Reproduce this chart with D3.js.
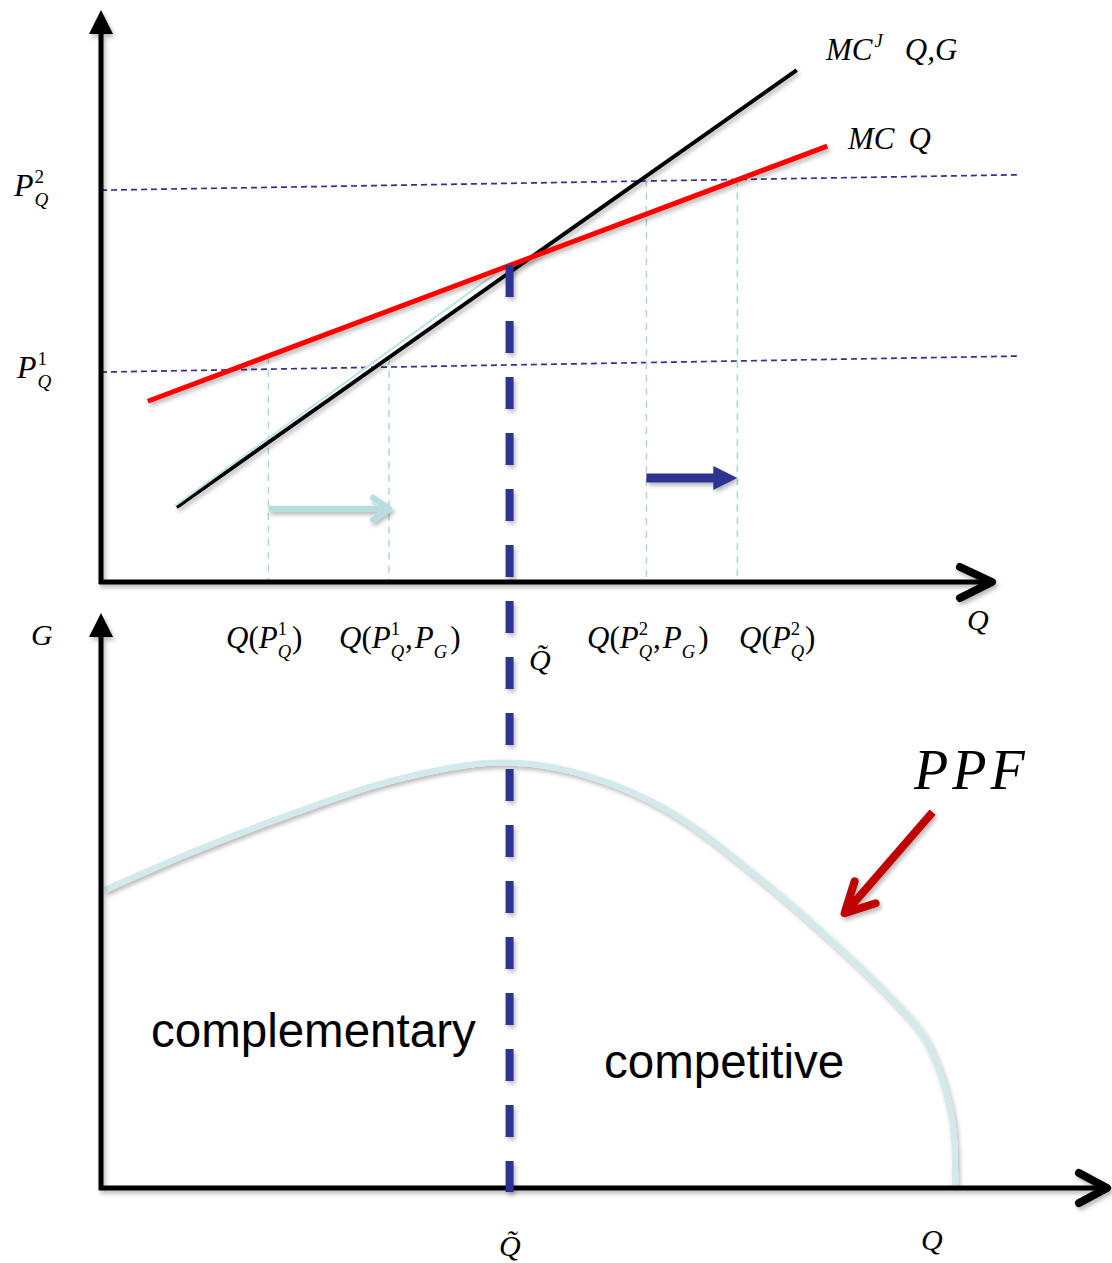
<!DOCTYPE html>
<html>
<head>
<meta charset="utf-8">
<script src="https://cdn.jsdelivr.net/npm/d3@7"></script>
<style>
  html, body { margin: 0; padding: 0; background: #fff; }
  svg { display: block; }
</style>
</head>
<body>
<div id="graphic"></div>
<script>
// Values in abstract units (0-100 on each axis)
var mcJoint = [[8.4, 13.1], [77.3, 89.5]];          // MC^J(Q,G)
var mcOwn = [[5.2, 31.6], [80.7, 76.2]];            // MC(Q)
var mcJointLow = [[8.4, 13.2], [45.4, 55.4]];       // light segment up to Q tilde
var priceLines = [
  { name: "P2", from: [0, 68.5], to: [102.1, 71.2] },
  { name: "P1", from: [0, 36.7], to: [102.1, 39.5] }
];
var quantityMarks = [
  { q: 18.6, top: 39.4 },
  { q: 32.0, top: 39.2 },
  { q: 60.6, top: 70.3 },
  { q: 70.7, top: 70.4 }
];
var qTilde = 45.4;
var qTildeTop = 55.4;
var shifts = [
  { from: 18.6, to: 32.0, y: 12.8, kind: "light" },
  { from: 60.6, to: 70.7, y: 18.2, kind: "dark" }
];
var ppf = [
  [0.4, 52.0], [9.9, 58.5], [21.0, 65.2], [32.1, 71.0], [43.2, 74.2],
  [51.0, 73.2], [62.1, 66.7], [73.2, 54.0], [84.3, 38.6], [88.5, 32.0],
  [91.2, 27.0], [93.2, 20.1], [94.6, 11.3], [94.9, 0.5]
];
var ppfPointer = [[92.4, 65.6], [82.4, 47.6]];

(function() {
var width = 1112, height = 1263;

// Scales
var x = d3.scaleLinear().domain([0, 100]).range([101, 1001]);
var yTop = d3.scaleLinear().domain([0, 100]).range([582, 10]);
var yBot = d3.scaleLinear().domain([0, 100]).range([1188, 615]);

var svg = d3.select("#graphic").append("svg")
    .attr("width", width)
    .attr("height", height);

// Drop shadow; user-space region so straight lines (zero-width bbox) still render
var defs = svg.append("defs");
var shadow = defs.append("filter").attr("id", "shadow")
    .attr("filterUnits", "userSpaceOnUse")
    .attr("x", 0).attr("y", 0).attr("width", width).attr("height", height);
shadow.append("feDropShadow")
    .attr("dx", 2).attr("dy", 3).attr("stdDeviation", 2)
    .attr("flood-color", "#000").attr("flood-opacity", 0.28);

var serif = "'Liberation Serif', 'Times New Roman', serif";
var sans = "'Liberation Sans', Arial, sans-serif";

function lineTop(pts) { return d3.line().x(function(d) { return x(d[0]); }).y(function(d) { return yTop(d[1]); })(pts); }

// Math-ish label: parts {t, up, sup, sub, stack}
function math(sel, px, py, size, parts) {
  var t = sel.append("text")
      .attr("x", px).attr("y", py)
      .attr("font-family", serif)
      .attr("font-size", size)
      .attr("fill", "#000");
  var shift = 0, pendingDx = 0, lastW = 0;
  parts.forEach(function(p) {
    var target = p.sup ? -0.42 * size : p.sub ? 0.32 * size : 0;
    var fs = (p.sup || p.sub) ? size * 0.6 : size;
    var ts = t.append("tspan").text(p.t)
        .attr("font-size", fs)
        .attr("font-style", p.up ? "normal" : "italic");
    if (target - shift) ts.attr("dy", target - shift);
    shift = target;
    var dx = pendingDx + (p.dx || 0);
    pendingDx = 0;
    if (p.stack) dx -= lastW;
    if (dx) ts.attr("dx", dx);
    var w = ts.node().getComputedTextLength();
    if (p.stack) pendingDx = Math.max(0, lastW - w);
    lastW = w;
  });
  return t;
}

// ---------------------------------------------------------------------------
// Top panel
var topPanel = svg.append("g").attr("class", "top");

// Price lines
topPanel.selectAll("path.price").data(priceLines).enter().append("path")
    .attr("class", "price")
    .attr("d", function(d) { return lineTop([d.from, d.to]); })
    .attr("fill", "none")
    .attr("stroke", "#2e3192")
    .attr("stroke-width", 1.7)
    .attr("stroke-dasharray", "6,4");

// Quantity drop lines
topPanel.selectAll("line.qmark").data(quantityMarks).enter().append("line")
    .attr("class", "qmark")
    .attr("x1", function(d) { return x(d.q); })
    .attr("x2", function(d) { return x(d.q); })
    .attr("y1", function(d) { return yTop(d.top); })
    .attr("y2", yTop(0))
    .attr("stroke", "#a6d6db")
    .attr("stroke-width", 1.4)
    .attr("stroke-dasharray", "7,6");

// MC curves
topPanel.append("path")
    .attr("d", lineTop(mcJoint))
    .attr("stroke", "#000").attr("stroke-width", 4)
    .attr("filter", "url(#shadow)");
topPanel.append("path")
    .attr("d", lineTop(mcJointLow))
    .attr("transform", "translate(-1,-1)")
    .attr("stroke", "#bfe3e6").attr("stroke-width", 2);
topPanel.append("path")
    .attr("d", lineTop(mcOwn))
    .attr("stroke", "#ff0000").attr("stroke-width", 5)
    .attr("filter", "url(#shadow)");

// Shift arrows
shifts.forEach(function(s) {
  var g = topPanel.append("g").attr("filter", "url(#shadow)");
  var y0 = yTop(s.y), x0 = x(s.from), x1 = x(s.to);
  if (s.kind === "light") {
    g.append("line").attr("x1", x0).attr("x2", x1 - 3).attr("y1", y0).attr("y2", y0)
        .attr("stroke", "#b7dde1").attr("stroke-width", 6);
    g.append("path")
        .attr("d", "M" + (x1 - 16) + "," + (y0 - 11) + "L" + x1 + "," + y0 + "L" + (x1 - 16) + "," + (y0 + 11))
        .attr("fill", "none").attr("stroke", "#b7dde1").attr("stroke-width", 6)
        .attr("stroke-linecap", "round").attr("stroke-linejoin", "round");
  } else {
    g.append("line").attr("x1", x0).attr("x2", x1 - 22).attr("y1", y0).attr("y2", y0)
        .attr("stroke", "#2e3192").attr("stroke-width", 9);
    g.append("path")
        .attr("d", "M" + (x1 - 24) + "," + (y0 - 12) + "L" + x1 + "," + y0 + "L" + (x1 - 24) + "," + (y0 + 12) + "Z")
        .attr("fill", "#2e3192");
  }
});

// Axes
var axTop = topPanel.append("g").attr("filter", "url(#shadow)");
axTop.append("line").attr("x1", x(0)).attr("x2", x(0)).attr("y1", yTop(0) + 2).attr("y2", yTop(100) + 20)
    .attr("stroke", "#000").attr("stroke-width", 5);
axTop.append("path")
    .attr("d", "M" + x(0) + "," + yTop(100) + "L" + (x(0) + 12) + "," + (yTop(100) + 24) + "L" + (x(0) - 12) + "," + (yTop(100) + 24) + "Z")
    .attr("fill", "#000");
axTop.append("line").attr("x1", x(0) - 2).attr("x2", x(99) - 3).attr("y1", yTop(0)).attr("y2", yTop(0))
    .attr("stroke", "#000").attr("stroke-width", 5);
axTop.append("path")
    .attr("d", "M" + (x(99) - 32) + "," + (yTop(0) - 15) + "L" + x(99) + "," + yTop(0) + "L" + (x(99) - 32) + "," + (yTop(0) + 16))
    .attr("fill", "none").attr("stroke", "#000").attr("stroke-width", 8)
    .attr("stroke-linecap", "round").attr("stroke-linejoin", "round");

// ---------------------------------------------------------------------------
// Bottom panel
var botPanel = svg.append("g").attr("class", "bottom");

botPanel.append("path")
    .datum(ppf)
    .attr("d", d3.line()
      .x(function(d) { return x(d[0]); })
      .y(function(d) { return yBot(d[1]); })
      .curve(d3.curveCatmullRom.alpha(0.5)))
    .attr("fill", "none")
    .attr("stroke", "#d3eaec")
    .attr("stroke-width", 6)
    .attr("filter", "url(#shadow)");

var axBot = botPanel.append("g").attr("filter", "url(#shadow)");
axBot.append("line").attr("x1", x(0)).attr("x2", x(0)).attr("y1", yBot(0) + 2).attr("y2", yBot(100) + 20)
    .attr("stroke", "#000").attr("stroke-width", 5);
axBot.append("path")
    .attr("d", "M" + x(0) + "," + (yBot(100) - 2) + "L" + (x(0) + 12) + "," + (yBot(100) + 22) + "L" + (x(0) - 12) + "," + (yBot(100) + 22) + "Z")
    .attr("fill", "#000");
axBot.append("line").attr("x1", x(0) - 2).attr("x2", x(112) - 3).attr("y1", yBot(0)).attr("y2", yBot(0))
    .attr("stroke", "#000").attr("stroke-width", 5);
axBot.append("path")
    .attr("d", "M" + (x(112) - 30) + "," + (yBot(0) - 15) + "L" + (x(112) - 2) + "," + yBot(0) + "L" + (x(112) - 30) + "," + (yBot(0) + 15))
    .attr("fill", "none").attr("stroke", "#000").attr("stroke-width", 8)
    .attr("stroke-linecap", "round").attr("stroke-linejoin", "round");

// PPF pointer
var ptr = botPanel.append("g").attr("filter", "url(#shadow)");
var p0 = [x(ppfPointer[0][0]), yBot(ppfPointer[0][1])];
var p1 = [x(ppfPointer[1][0]), yBot(ppfPointer[1][1])];
ptr.append("line").attr("x1", p0[0]).attr("y1", p0[1]).attr("x2", p1[0] + 3).attr("y2", p1[1] - 3)
    .attr("stroke", "#c00000").attr("stroke-width", 8);
ptr.append("path")
    .attr("d", "M" + (p1[0] + 12) + "," + (p1[1] - 34) + "L" + (p1[0] + 2) + "," + (p1[1] - 2) + "L" + (p1[0] + 33) + "," + (p1[1] - 12))
    .attr("fill", "none").attr("stroke", "#c00000").attr("stroke-width", 8)
    .attr("stroke-linecap", "round").attr("stroke-linejoin", "round");

// Q tilde thick dashed line (through both panels)
svg.append("line")
    .attr("x1", x(qTilde)).attr("x2", x(qTilde))
    .attr("y1", yTop(qTildeTop)).attr("y2", yBot(0) + 4)
    .attr("stroke", "#2e3192")
    .attr("stroke-width", 8)
    .attr("stroke-dasharray", "32,24")
    .attr("filter", "url(#shadow)");

// ---------------------------------------------------------------------------
// Labels
var labels = svg.append("g").attr("class", "labels");

math(labels, 14, 196, 32, [{ t: "P" }, { t: "2", up: 1, sup: 1, dx: 1 }, { t: "Q", sub: 1, stack: 1 }]);
math(labels, 17, 378, 32, [{ t: "P" }, { t: "1", up: 1, sup: 1, dx: 1 }, { t: "Q", sub: 1, stack: 1 }]);

math(labels, 826, 60, 31, [{ t: "MC" }, { t: "J", sup: 1, dx: 2 }, { t: "Q,G", dx: 22 }]);
math(labels, 848, 149, 31, [{ t: "MC" }, { t: "Q", dx: 14 }]);

math(labels, 226, 648, 31, [{ t: "Q" }, { t: "(", up: 1 }, { t: "P" }, { t: "1", up: 1, sup: 1 }, { t: "Q", sub: 1, stack: 1 }, { t: ")", up: 1, dx: 1 }]);
math(labels, 339, 648, 31, [{ t: "Q" }, { t: "(", up: 1 }, { t: "P" }, { t: "1", up: 1, sup: 1 }, { t: "Q", sub: 1, stack: 1 }, { t: ",", up: 1, dx: 1 }, { t: "P", dx: 2 }, { t: "G", sub: 1 }, { t: ")", up: 1, dx: 3 }]);
math(labels, 587, 648, 31, [{ t: "Q" }, { t: "(", up: 1 }, { t: "P" }, { t: "2", up: 1, sup: 1 }, { t: "Q", sub: 1, stack: 1 }, { t: ",", up: 1, dx: 1 }, { t: "P", dx: 2 }, { t: "G", sub: 1 }, { t: ")", up: 1, dx: 3 }]);
math(labels, 739, 648, 31, [{ t: "Q" }, { t: "(", up: 1 }, { t: "P" }, { t: "2", up: 1, sup: 1 }, { t: "Q", sub: 1, stack: 1 }, { t: ")", up: 1, dx: 1 }]);

math(labels, 31, 645, 30, [{ t: "G" }]);
math(labels, 967, 630, 30, [{ t: "Q" }]);
math(labels, 529, 670, 30, [{ t: "Q\u0303" }]);
math(labels, 499, 1256, 30, [{ t: "Q\u0303" }]);
math(labels, 921, 1250, 30, [{ t: "Q" }]);

labels.append("text")
    .attr("x", 914).attr("y", 789)
    .attr("font-family", serif).attr("font-style", "italic")
    .attr("font-size", 56).attr("letter-spacing", 4)
    .text("PPF");

labels.append("text")
    .attr("x", 151).attr("y", 1047)
    .attr("font-family", sans).attr("font-size", 47.5)
    .text("complementary");
labels.append("text")
    .attr("x", 604).attr("y", 1078)
    .attr("font-family", sans).attr("font-size", 47.5)
    .text("competitive");
})();
</script>
</body>
</html>
